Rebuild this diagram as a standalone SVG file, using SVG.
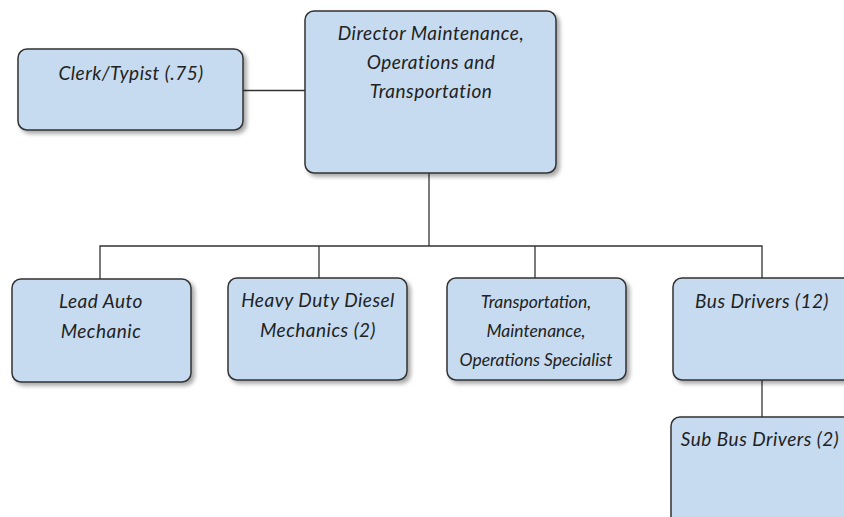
<svg xmlns="http://www.w3.org/2000/svg" width="844" height="517" viewBox="0 0 844 517">
<style>
.box{fill:#c6dbef;stroke:#333;stroke-width:1.5;filter:url(#sh)}
.t{font-family:Lato,"Open Sans","Liberation Sans",sans-serif;font-style:italic;font-size:19px;letter-spacing:0.5px;fill:#222;text-anchor:middle}
.tc{font-size:17.5px;letter-spacing:0}
.c{stroke:#333;stroke-width:1.3;fill:none}
</style>
<defs>
<filter id="sh" x="-10%" y="-10%" width="130%" height="130%">
<feDropShadow dx="3" dy="3" stdDeviation="2" flood-color="#000" flood-opacity="0.35"/>
</filter>
</defs>
<rect width="844" height="517" fill="#fff"/>
<g id="connectors">
<path class="c" d="M243 90.5H305"/>
<path class="c" d="M429 173V246"/>
<path class="c" d="M100 279V246H762V278"/>
<path class="c" d="M319 246V278"/>
<path class="c" d="M535 246V278"/>
<path class="c" d="M762 380V417"/>
</g>
<g id="clerk">
<rect class="box" x="18" y="49" width="225" height="81" rx="9"/>
<text class="t" x="131" y="80">Clerk/Typist (.75)</text>
</g>
<g id="director">
<rect class="box" x="305" y="11" width="251" height="162" rx="9"/>
<text class="t" x="431" y="40">Director Maintenance,</text>
<text class="t" x="431" y="69">Operations and</text>
<text class="t" x="431" y="98">Transportation</text>
</g>
<g id="lead-auto">
<rect class="box" x="12" y="279" width="179" height="103" rx="9"/>
<text class="t" x="101" y="308">Lead Auto</text>
<text class="t" x="101" y="338">Mechanic</text>
</g>
<g id="heavy-duty">
<rect class="box" x="228" y="278" width="179" height="102" rx="9"/>
<text class="t" x="318" y="307">Heavy Duty Diesel</text>
<text class="t" x="318" y="337">Mechanics (2)</text>
</g>
<g id="specialist">
<rect class="box" x="447" y="278" width="179" height="102" rx="9"/>
<text class="t tc" x="536" y="308">Transportation,</text>
<text class="t tc" x="536" y="337">Maintenance,</text>
<text class="t tc" x="536" y="366">Operations Specialist</text>
</g>
<g id="bus-drivers">
<rect class="box" x="673" y="278" width="180" height="102" rx="9"/>
<text class="t" x="762" y="308">Bus Drivers (12)</text>
</g>
<g id="sub-bus-drivers">
<rect class="box" x="671" y="417" width="182" height="110" rx="9"/>
<text class="t" x="760" y="446">Sub Bus Drivers (2)</text>
</g>
</svg>
